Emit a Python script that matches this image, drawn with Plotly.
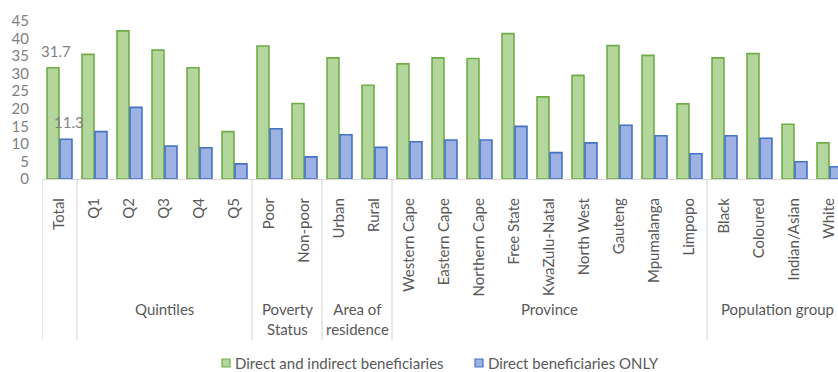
import plotly.graph_objects as go

categories = ["Total", "Q1", "Q2", "Q3", "Q4", "Q5", "Poor", "Non-poor", "Urban", "Rural",
              "Western Cape", "Eastern Cape", "Northern Cape", "Free State", "KwaZulu-Natal",
              "North West", "Gauteng", "Mpumalanga", "Limpopo",
              "Black", "Coloured", "Indian/Asian", "White"]
direct_indirect = [31.7, 35.5, 42.2, 36.7, 31.7, 13.5, 37.9, 21.5, 34.5, 26.7,
                   32.8, 34.5, 34.3, 41.4, 23.4, 29.5, 38.0, 35.2, 21.4,
                   34.5, 35.7, 15.6, 10.3]
direct_only = [11.3, 13.5, 20.4, 9.4, 8.9, 4.3, 14.3, 6.3, 12.6, 9.0,
               10.6, 11.1, 11.1, 15.0, 7.5, 10.3, 15.3, 12.3, 7.2,
               12.3, 11.6, 4.9, 3.5]
groups = [("", 0, 0), ("Quintiles", 1, 5), ("Poverty<br>Status", 6, 7),
          ("Area of<br>residence", 8, 9), ("Province", 10, 18), ("Population group", 19, 22)]
series_names = ["Direct and indirect beneficiaries", "Direct beneficiaries ONLY"]
y_ticks = [0, 5, 10, 15, 20, 25, 30, 35, 40, 45]

FONT = "Lato"
W, H = 838, 372
L, R, T, B = 42, 0, 21, 193
PW, PH = W - L - R, H - T - B
GREEN_FILL, GREEN_LINE = "#b2d69c", "#70ad47"
BLUE_FILL, BLUE_LINE = "#9db2e2", "#4472c4"


def px_x(px):
    return (px - L) / PW


def px_y(py):
    return (H - B - py) / PH


fig = go.Figure()
fig.add_trace(go.Bar(x=categories, y=direct_indirect, name=series_names[0], showlegend=False,
                     marker=dict(color=GREEN_FILL, line=dict(color=GREEN_LINE, width=1.6))))
fig.add_trace(go.Bar(x=categories, y=direct_only, name=series_names[1], showlegend=False,
                     marker=dict(color=BLUE_FILL, line=dict(color=BLUE_LINE, width=1.6))))

# data labels for Total
fig.add_annotation(x=categories[0], y=direct_indirect[0], text=f"{direct_indirect[0]}",
                   showarrow=False, xshift=-4, yshift=6, yanchor="bottom",
                   font=dict(family=FONT, size=15, color="#7f7f7f"))
fig.add_annotation(x=categories[0], y=direct_only[0], text=f"{direct_only[0]}",
                   showarrow=False, xshift=9, yshift=6, yanchor="bottom",
                   font=dict(family=FONT, size=15, color="#7f7f7f"))

# group separators and labels
bounds = sorted(set([g[1] - 0.5 for g in groups] + [g[2] + 0.5 for g in groups]))
for b in bounds:
    fig.add_shape(type="line", xref="x", yref="paper", x0=b, x1=b, y0=0, y1=px_y(340),
                  line=dict(color="#d9d9d9", width=1.2))
for name, a, b in groups:
    if not name:
        continue
    fig.add_annotation(x=(a + b) / 2, y=px_y(298), xref="x", yref="paper", text=name,
                       showarrow=False, yanchor="top", align="center",
                       font=dict(family=FONT, size=15, color="#595959"))

# legend (manual, Excel-like compact)
legend_items = [(series_names[0], GREEN_FILL, GREEN_LINE, 222),
                (series_names[1], BLUE_FILL, BLUE_LINE, 475)]
for name, fill, line, x0 in legend_items:
    fig.add_shape(type="rect", xref="paper", yref="paper",
                  x0=px_x(x0), x1=px_x(x0 + 8), y0=px_y(367), y1=px_y(359),
                  fillcolor=fill, line=dict(color=line, width=1.2))
    fig.add_annotation(x=px_x(x0 + 11), y=px_y(363), xref="paper", yref="paper",
                       text=name, showarrow=False, xanchor="left", yanchor="middle",
                       font=dict(family=FONT, size=15, color="#595959"))

fig.update_layout(
    width=W, height=H, margin=dict(l=L, r=R, t=T, b=B),
    plot_bgcolor="white", paper_bgcolor="white",
    barmode="group", bargap=0.257, bargroupgap=0.08,
    font=dict(family=FONT, color="#595959"),
    showlegend=False,
    xaxis=dict(type="category", range=[-0.5, -0.5 + PW / 35], showline=True,
               linecolor="#d9d9d9", linewidth=1.2, tickangle=-90, ticks="",
               ticklabelstandoff=12, tickfont=dict(family=FONT, size=15, color="#595959"),
               showgrid=False),
    yaxis=dict(range=[0, 45], tickvals=y_ticks, showgrid=False, zeroline=False,
               showline=False, ticks="", ticklabelstandoff=12,
               tickfont=dict(family=FONT, size=15, color="#7f7f7f")),
)
fig.write_html("out.html")
